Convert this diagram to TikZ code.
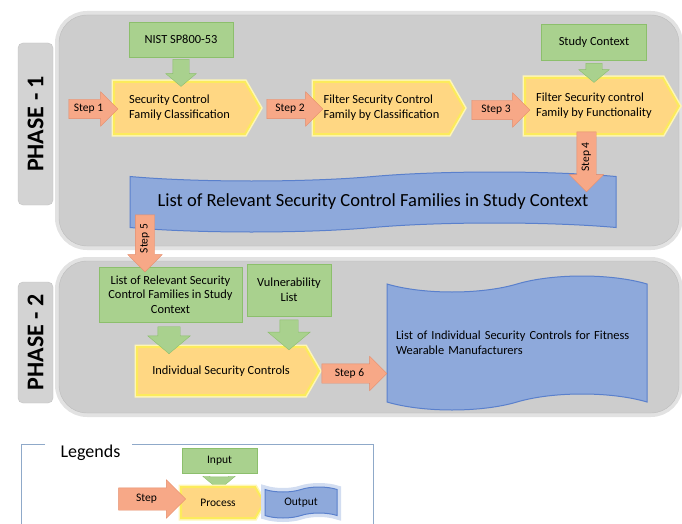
\documentclass[tikz,border=0pt]{standalone}
\usepackage{fontspec}
\setmainfont{Carlito}
\usetikzlibrary{shapes.symbols,shapes.arrows}

\definecolor{panelfill}{HTML}{CDCDCD}
\definecolor{panelline}{HTML}{BDBDBD}
\definecolor{panelglow}{HTML}{E2E2E2}
\definecolor{tabfill}{HTML}{D3D3D3}
\definecolor{tabline}{HTML}{C2C2C2}
\definecolor{greenfill}{HTML}{A9D18E}
\definecolor{greenline}{HTML}{8CBF6C}
\definecolor{stepfill}{HTML}{F7A887}
\definecolor{stepline}{HTML}{E58C6A}
\definecolor{procfill}{HTML}{FFD783}
\definecolor{procglow}{HTML}{FCEB5C}
\definecolor{outfill}{HTML}{8EA9DB}
\definecolor{outline}{HTML}{5A80CC}
\definecolor{legline}{HTML}{8FA9C9}

\newcommand\boxfont{\fontsize{12.4}{14.7}\selectfont}
\newcommand\stepfont{\fontsize{11.5}{13}\selectfont}
\newcommand\bannerfont{\fontsize{18.5}{22}\selectfont}
\newcommand\phasefont{\fontsize{24}{28}\selectfont\bfseries}

\begin{document}
\begin{tikzpicture}[x=1pt,y=-1pt,
  panelbox/.style={rectangle,rounded corners=28pt,fill=panelfill,draw=panelline,preaction={draw=panelglow,line width=8pt}},
  phasetab/.style={rectangle,rounded corners=5pt,fill=tabfill,draw=tabline,rotate=90,minimum height=35pt,font=\phasefont},
  inbox/.style={rectangle,fill=greenfill,draw=greenline,align=center,font=\boxfont},
  procbox/.style={signal,signal to=east,signal pointer angle=120,anchor=west,fill=procfill,draw=procglow,line width=2pt,preaction={draw=procglow!45,line width=5pt},align=left,font=\boxfont},
  outbox/.style={tape,fill=outfill,draw=outline,line width=1pt},
  steparrow/.style={single arrow,fill=stepfill,draw=stepline,inner xsep=2pt,inner ysep=4pt,text height=8pt,text depth=3pt,single arrow head extend=7.5pt,font=\stepfont},
  inarrow/.style={single arrow,fill=greenfill,draw=greenline,inner sep=0pt,inner ysep=8pt,single arrow head extend=7pt,single arrow tip angle=100,rotate=-90},
  downstep/.style={steparrow,rotate=90,shape border rotate=180}]
\useasboundingbox (0,0) rectangle (682,524);

\node[panelbox,minimum width=620pt,minimum height=231pt] (phaseA) at (369,130.5) {};
\node[panelbox,minimum width=620pt,minimum height=152pt] (phaseB) at (369,337) {};
\node[phasetab,minimum width=162pt] (tabA) at (35.5,124) {PHASE - 1};
\node[phasetab,minimum width=121pt] (tabB) at (35.5,342.5) {PHASE - 2};

\node[inbox,minimum width=104pt,minimum height=35pt] (nist) at (181,39.5) {NIST SP800-53};
\node[inbox,minimum width=105pt,minimum height=36pt] (ctx) at (594,42) {Study Context};
\node[inbox,minimum width=143pt,minimum height=55pt] (famlist) at (170.5,294.5) {List of Relevant Security\\Control Families in Study\\Context};
\node[inbox,minimum width=84pt,minimum height=52pt] (vuln) at (289,290) {Vulnerability\\List};

\node[procbox,minimum width=146pt,minimum height=52pt] (classify) at (113,108) {Security Control\\Family Classification};
\node[procbox,minimum width=150pt,minimum height=52pt] (byclass) at (313,108) {Filter Security Control\\Family by Classification};
\node[procbox,minimum width=154pt,minimum height=56pt] (byfunc) at (524,106) {Filter Security control\\Family by Functionality};
\node[procbox,minimum width=182pt,minimum height=48pt] (indiv) at (136,371) {Individual Security Controls};

\node[outbox,minimum width=486pt,minimum height=60pt,tape bend height=9pt,font=\bannerfont] (relevant) at (373,202) {List of Relevant Security Control Families in Study Context};
\node[outbox,minimum width=260pt,minimum height=134pt,tape bend height=16pt,text width=242pt,align=left,font=\boxfont] (result) at (517,343) {List of Individual Security Controls for Fitness\\Wearable Manufacturers};

\node[inarrow,minimum height=27pt] (nistin) at (181,69.5) {};
\node[inarrow,minimum height=19pt] (ctxin) at (594,69.5) {};
\node[inarrow,minimum height=27pt,inner ysep=11pt,single arrow head extend=10pt] (famin) at (169,335.5) {};
\node[inarrow,minimum height=30pt,inner ysep=9pt,single arrow head extend=12pt] (vulnin) at (289,331) {};

\node[steparrow,minimum height=49pt] (stepA) at (88.5,109) {Step 1};
\node[steparrow,minimum height=56pt] (stepB) at (290,109) {Step 2};
\node[steparrow,minimum height=58pt] (stepC) at (496,110) {Step 3};
\node[downstep,minimum height=60pt] (stepD) at (586.5,157) {Step 4};
\node[downstep,minimum height=57pt] (stepE) at (145,238.5) {Step 5};
\node[steparrow,minimum height=65pt] (stepF) at (349.5,373.5) {Step 6};

\coordinate (legTL) at (21,444);
\coordinate (legTR) at (373,444);
\coordinate (legBL) at (21,524);
\coordinate (legBR) at (373,524);
\coordinate (gapL) at (45,444);
\coordinate (gapR) at (132,444);
\draw[legline,line width=1pt] (gapL) -- (legTL) -- (legBL);
\draw[legline,line width=1pt] (gapR) -- (legTR) -- (legBR);
\node[anchor=base west,font=\fontsize{18}{21}\selectfont] (legtitle) at (57,457) {Legends};
\node[inbox,minimum width=75pt,minimum height=25pt,font=\stepfont] (leginput) at (219.5,460.5) {Input};
\node[inarrow,minimum height=13pt,inner ysep=9pt] (legin) at (219,479.5) {};
\node[procbox,minimum width=83pt,minimum height=31pt,font=\stepfont,align=center] (legproc) at (180,502.5) {Process};
\node[outbox,minimum width=72pt,minimum height=31pt,tape bend height=5pt,preaction={draw=outfill!40,line width=8pt},font=\stepfont] (legout) at (301,502.5) {Output};
\node[steparrow,minimum height=67pt,inner ysep=5.5pt,single arrow head extend=8pt] (legstep) at (146.5,499) {Step};
\end{tikzpicture}
\end{document}
